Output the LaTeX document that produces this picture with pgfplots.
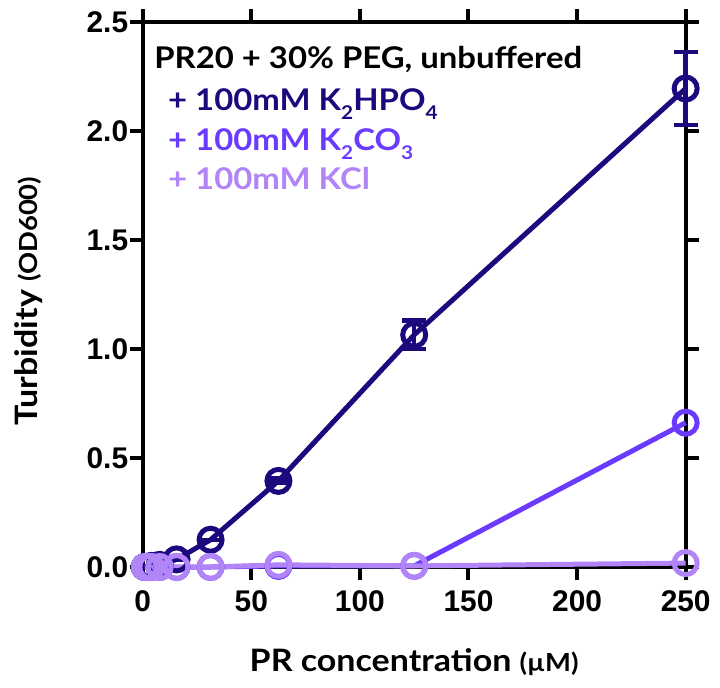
\documentclass[border=0pt]{standalone}
\usepackage{fontspec}
\setmainfont{Lato}[FakeStretch=1.1]
\newfontfamily\tickfont{Liberation Sans}
\usepackage{pgfplots}
\pgfplotsset{compat=1.18}
\definecolor{cdark}{HTML}{1B0A7E}
\definecolor{cmed}{HTML}{6A3BFF}
\definecolor{clight}{HTML}{B184F7}
\newcommand{\sub}[1]{\raisebox{-0.6ex}{\fontsize{19}{19}\selectfont #1}}

\pgfplotstableread{
x y e
0.98 0.0 0
1.95 0.0 0
3.9 0.005 0
7.8 0.01 0
15.6 0.035 0
31.25 0.125 0
62.5 0.395 0.01
125 1.065 0.065
250 2.195 0.167
}\tabdark
\pgfplotstableread{
x y
0.98 0.0
1.95 0.0
3.9 0.0
7.8 0.0
15.6 0.0
31.25 0.0
62.5 0.005
125 0.005
250 0.662
}\tabmed
\pgfplotstableread{
x y
0.98 0.0
1.95 0.0
3.9 0.0
7.8 0.0
15.6 0.0
31.25 0.0
62.5 0.01
125 0.005
250 0.018
}\tablight

\begin{document}
\begin{tikzpicture}
\begin{axis}[
  scale only axis, width=543bp, height=545bp,
  xmin=0, xmax=250, ymin=0, ymax=2.5,
  xtick={0,50,100,150,200,250},
  ytick={0,0.5,1,1.5,2,2.5},
  axis line style={line width=4bp},
  every tick/.style={black, line width=4bp},
  major tick length=13bp,
  tick align=outside,
  xtick pos=both, ytick pos=both,
  xticklabel pos=bottom, yticklabel pos=left,
  ticklabel style={font=\tickfont\bfseries\fontsize{30}{30}\selectfont},
  xticklabel style={yshift=-7bp},
  yticklabel style={xshift=2bp},
  /pgf/number format/assume math mode=true,
  yticklabel style={/pgf/number format/fixed, /pgf/number format/fixed zerofill, /pgf/number format/precision=1},
  clip=false,
  xlabel={\bfseries\fontsize{31}{31}\selectfont PR concentration {\fontsize{25}{25}\selectfont (µM)}},
  xlabel style={at={(axis description cs:0.5,-0.174)}, anchor=center},
  ylabel={\bfseries\fontsize{31}{31}\selectfont Turbidity {\fontsize{25}{25}\selectfont (OD600)}},
  ylabel style={at={(axis description cs:-0.211,0.488)}, anchor=center, rotate=0},
]
\addplot[color=cdark, line width=5bp, mark=o, mark size=11.5bp, mark options={line width=5bp},
  error bars/.cd, y dir=both, y explicit,
  error bar style={line width=4.5bp, cdark},
  error mark options={rotate=90, mark size=12bp, line width=4.5bp, cdark}]
  table[x=x, y=y, y error=e] {\tabdark};
\addplot[color=cmed, line width=5bp, mark=o, mark size=11.5bp, mark options={line width=5bp}]
  table[x=x, y=y] {\tabmed};
\addplot[color=clight, line width=5bp, mark=o, mark size=11.5bp, mark options={line width=5bp}]
  table[x=x, y=y] {\tablight};

\node[anchor=base west, font=\bfseries\fontsize{30}{30}\selectfont, text=black, inner sep=0pt]
  at (rel axis cs:0.021,0.9156) {PR20 + 30\% PEG, unbuffered};
\node[anchor=base west, font=\bfseries\fontsize{30}{30}\selectfont, text=cdark, inner sep=0pt]
  at (rel axis cs:0.0466,0.8385) {+ 100mM K\sub{2}HPO\sub{4}};
\node[anchor=base west, font=\bfseries\fontsize{30}{30}\selectfont, text=cmed, inner sep=0pt]
  at (rel axis cs:0.0466,0.765) {+ 100mM K\sub{2}CO\sub{3}};
\node[anchor=base west, font=\bfseries\fontsize{30}{30}\selectfont, text=clight, inner sep=0pt]
  at (rel axis cs:0.0466,0.692) {+ 100mM KCl};

\path (rel axis cs:-0.2628,-0.2202) rectangle (rel axis cs:1.0632,1.0404);
\end{axis}
\end{tikzpicture}
\end{document}
